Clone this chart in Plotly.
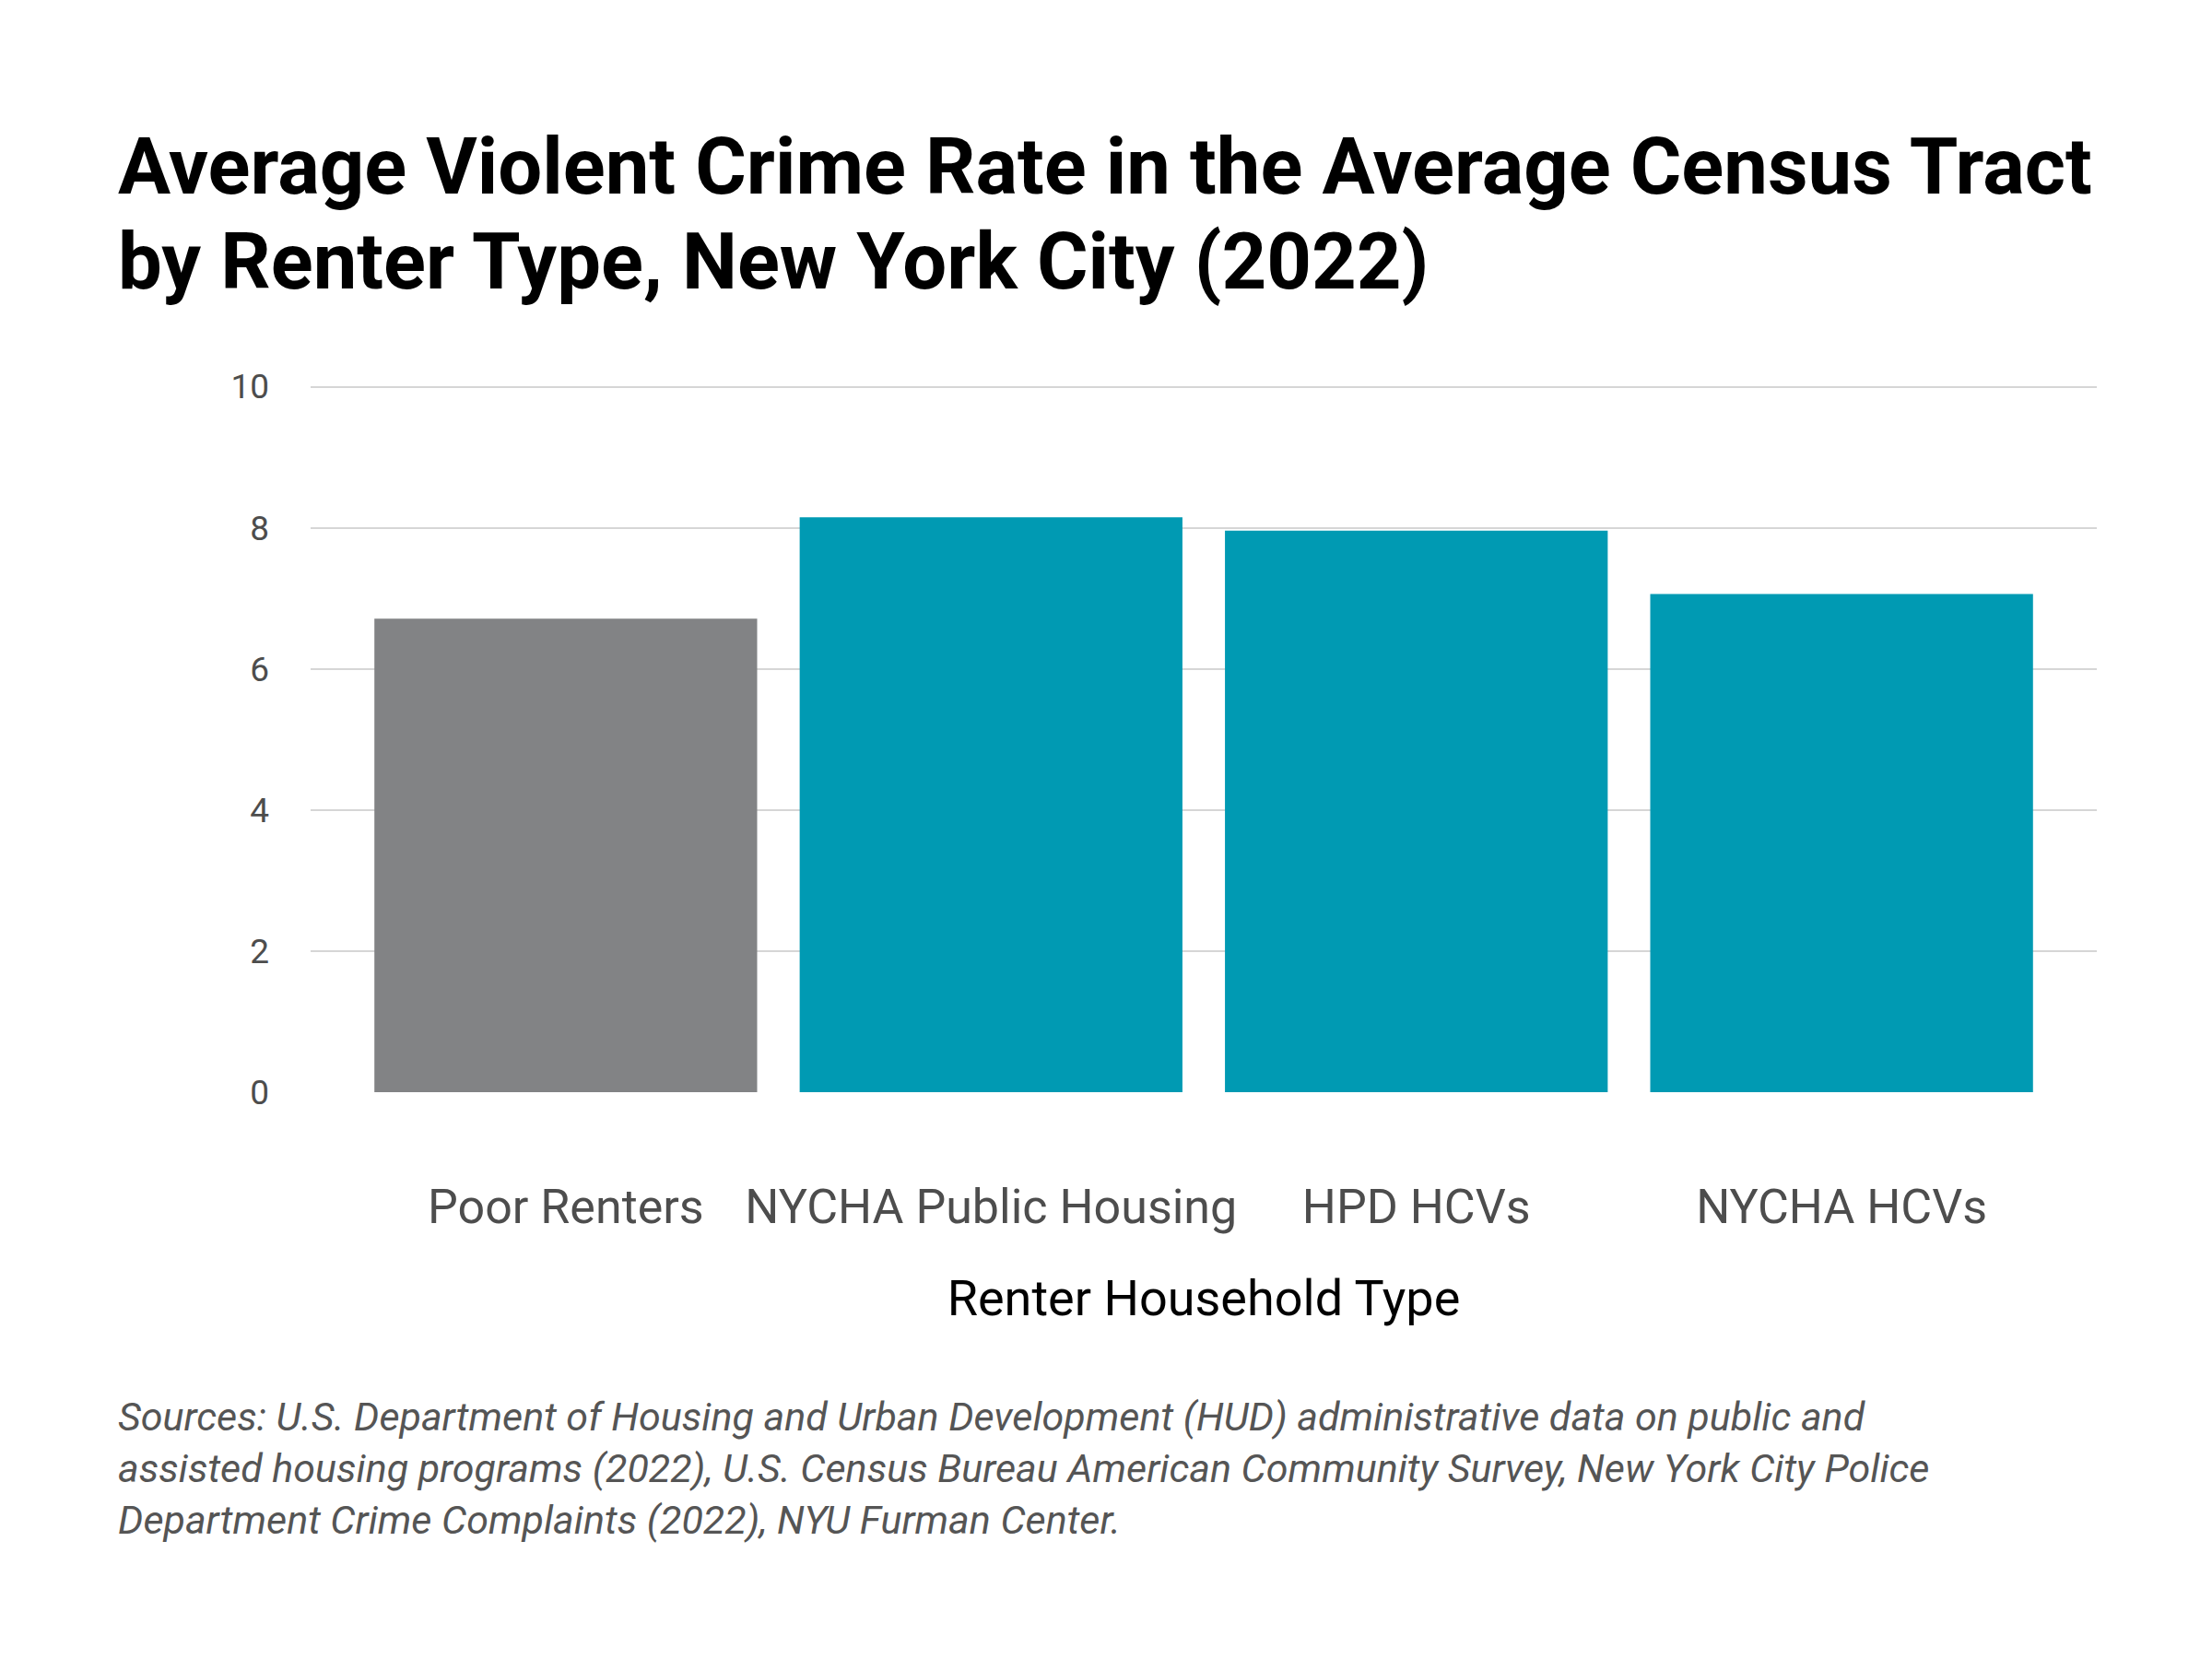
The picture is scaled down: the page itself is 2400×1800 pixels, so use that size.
import plotly.graph_objects as go

# Data
categories = ["Poor Renters", "NYCHA Public Housing", "HPD HCVs", "NYCHA HCVs"]
crime_rate = [6.71, 8.15, 7.96, 7.06]
bar_colors = ["#828385", "#009ab3", "#009ab3", "#009ab3"]
y_ticks = [0, 2, 4, 6, 8, 10]

title_lines = ["Average Violent Crime Rate in the Average Census Tract",
               "by Renter Type, New York City (2022)"]
source_text = ("Sources: U.S. Department of Housing and Urban Development (HUD) administrative data on public and<br>"
               "assisted housing programs (2022), U.S. Census Bureau American Community Survey, New York City Police<br>"
               "Department Crime Complaints (2022), NYU Furman Center.")

# plot area in figure pixels
left, right, top, bottom = 329, 2267, 410, 1177
plot_w = right - left
plot_h = bottom - top

fig = go.Figure()

fig.add_trace(go.Bar(
    x=categories, y=crime_rate,
    marker=dict(color=bar_colors, line=dict(width=0)),
    hoverinfo="x+y",
))

fig.update_layout(
    width=2400, height=1800,
    margin=dict(l=left, r=2400 - right, t=top, b=1800 - bottom, autoexpand=False),
    paper_bgcolor="white", plot_bgcolor="white",
    bargap=0.1,
    showlegend=False,
    font=dict(family="Roboto", color="#4d4d4d"),
)

fig.update_xaxes(
    range=[-0.6, 3.6],
    showgrid=False, showline=False, zeroline=False,
    ticks="", ticklabelstandoff=89,
    tickfont=dict(family="Roboto", size=52, color="#4d4d4d"),
    title=dict(text="Renter Household Type", standoff=50,
               font=dict(family="Roboto", size=54, color="#000000")),
)

fig.update_yaxes(
    range=[0, 10.02], tickvals=y_ticks,
    showgrid=True, gridcolor="#d6d6d6", gridwidth=2,
    zeroline=False, showline=False,
    ticks="", ticklabelstandoff=44,
    tickfont=dict(family="Roboto", size=37, color="#4d4d4d"),
)

# title, one annotation per line to get the tighter line spacing
for i, line in enumerate(title_lines):
    fig.add_annotation(
        text="<b>" + line + "</b>",
        xref="paper", yref="paper",
        x=(118 - left) / plot_w, xanchor="left",
        y=(bottom - (121 + i * 103)) / plot_h, yanchor="top",
        align="left", showarrow=False,
        font=dict(family="Roboto", size=85, color="#000000"),
    )

# source note
fig.add_annotation(
    text=source_text,
    xref="paper", yref="paper",
    x=(118 - left) / plot_w, xanchor="left",
    y=(bottom - 1502) / plot_h, yanchor="top",
    align="left", showarrow=False,
    font=dict(family="Roboto", size=43, color="#555555", style="italic"),
)

fig.write_html("out.html")
